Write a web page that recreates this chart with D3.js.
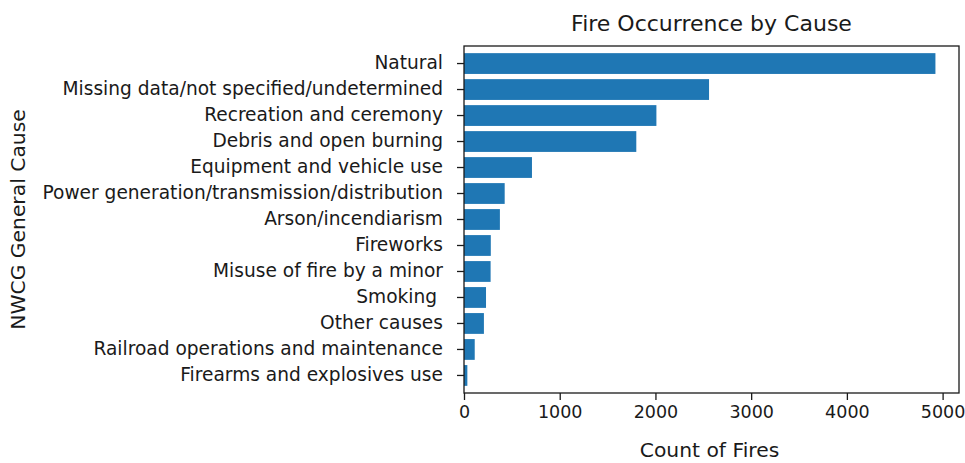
<!DOCTYPE html>
<html>
<head>
<meta charset="utf-8">
<script src="https://cdn.jsdelivr.net/npm/d3@7"></script>
<style>
  html, body { margin: 0; padding: 0; background: #fff; }
  svg { display: block; font-family: "DejaVu Sans", sans-serif; }
  text { white-space: pre; }
</style>
</head>
<body>
<svg id="chart" width="965" height="463"></svg>
<script>
// Fire counts per NWCG general cause, largest first
const causes = [
  "Natural",
  "Missing data/not specified/undetermined",
  "Recreation and ceremony",
  "Debris and open burning",
  "Equipment and vehicle use",
  "Power generation/transmission/distribution",
  "Arson/incendiarism",
  "Fireworks",
  "Misuse of fire by a minor",
  "Smoking ",
  "Other causes",
  "Railroad operations and maintenance",
  "Firearms and explosives use"
];
const fireCounts = [4925, 2560, 2010, 1800, 710, 425, 375, 280, 278, 230, 208, 112, 35];
const xTicks = [0, 1000, 2000, 3000, 4000, 5000];

const titleText = "Fire Occurrence by Cause";
const xLabel = "Count of Fires";
const yLabel = "NWCG General Cause";

const svg = d3.select("#chart");
const plot = { left: 464, right: 959, top: 46, bottom: 393 };
const ink = "#1a1a1a";

const x = d3.scaleLinear()
  .domain([0, d3.max(fireCounts) * 1.05])
  .range([plot.left, plot.right]);

const y = d3.scaleBand()
  .domain(causes)
  .range([plot.top, plot.bottom])
  .paddingInner(0.2)
  .paddingOuter(0.275);

// bars
svg.append("g")
  .selectAll("rect")
  .data(causes)
  .join("rect")
  .attr("x", x(0))
  .attr("y", d => y(d))
  .attr("width", (d, i) => x(fireCounts[i]) - x(0))
  .attr("height", y.bandwidth())
  .attr("fill", "#1f77b4");

// y axis
const yAxis = svg.append("g")
  .attr("transform", `translate(${plot.left},0)`)
  .call(d3.axisLeft(y).tickSize(7).tickSizeOuter(0).tickPadding(14));
yAxis.select(".domain").remove();
yAxis.selectAll("line").attr("stroke", ink).attr("stroke-width", 1.3);
yAxis.selectAll("text").attr("fill", ink).style("font-size", "18.6px")
  .style("font-family", "'DejaVu Sans', sans-serif");

// x axis
const xAxis = svg.append("g")
  .attr("transform", `translate(0,${plot.bottom})`)
  .call(d3.axisBottom(x).tickValues(xTicks).tickFormat(d3.format("d"))
    .tickSize(7).tickSizeOuter(0).tickPadding(6));
xAxis.select(".domain").remove();
xAxis.selectAll("line").attr("stroke", ink).attr("stroke-width", 1.3);
xAxis.selectAll("text").attr("fill", ink).style("font-size", "17.5px")
  .style("font-family", "'DejaVu Sans', sans-serif");

// frame
svg.append("rect")
  .attr("x", plot.left).attr("y", plot.top)
  .attr("width", plot.right - plot.left)
  .attr("height", plot.bottom - plot.top)
  .attr("fill", "none")
  .attr("stroke", ink)
  .attr("stroke-width", 1.3);

// title and axis labels
svg.append("text")
  .attr("x", (plot.left + plot.right) / 2)
  .attr("y", 31)
  .attr("text-anchor", "middle")
  .attr("fill", ink)
  .style("font-size", "22px")
  .text(titleText);

svg.append("text")
  .attr("x", (plot.left + plot.right) / 2 - 2)
  .attr("y", 457)
  .attr("text-anchor", "middle")
  .attr("fill", ink)
  .style("font-size", "20.3px")
  .text(xLabel);

svg.append("text")
  .attr("transform", `translate(25,${(plot.top + plot.bottom) / 2}) rotate(-90)`)
  .attr("text-anchor", "middle")
  .attr("fill", ink)
  .style("font-size", "20.3px")
  .text(yLabel);
</script>
</body>
</html>
